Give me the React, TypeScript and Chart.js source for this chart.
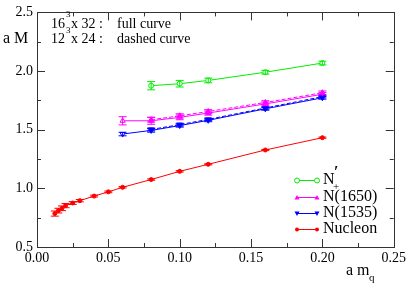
import React, { useEffect, useRef } from 'react';
import { Chart, registerables } from 'chart.js';
Chart.register(...registerables);

// ---- data ----
const nPrimeX = [0.08, 0.10, 0.12, 0.16, 0.20];
const nPrimeY = [1.875, 1.892, 1.92, 1.99, 2.068];
const nPrimeErr = [0.035, 0.028, 0.02, 0.016, 0.016];

const n1650X = [0.06, 0.08, 0.10, 0.12, 0.16, 0.20];
const n1650Y = [1.576, 1.576, 1.605, 1.642, 1.72, 1.802];
const n1650Err = [0.035, 0.03, 0.02, 0.018, 0.016, 0.016];

const n1650DashX = [0.08, 0.10, 0.12, 0.16, 0.20];
const n1650DashY = [1.585, 1.618, 1.655, 1.732, 1.815];
const n1650DashErr = [0.02, 0.018, 0.016, 0.015, 0.015];

const n1535X = [0.06, 0.08, 0.10, 0.12, 0.16, 0.20];
const n1535Y = [1.463, 1.494, 1.535, 1.58, 1.678, 1.772];
const n1535Err = [0.015, 0.015, 0.013, 0.012, 0.012, 0.012];

const n1535DashX = [0.08, 0.10, 0.12, 0.16, 0.20];
const n1535DashY = [1.502, 1.543, 1.588, 1.685, 1.782];
const n1535DashErr = [0.012, 0.012, 0.011, 0.011, 0.011];

const nucleonX = [0.0125, 0.015, 0.0175, 0.02, 0.025, 0.03, 0.04, 0.05, 0.06, 0.08, 0.10, 0.12, 0.16, 0.20];
const nucleonY = [0.785, 0.81, 0.83, 0.853, 0.875, 0.895, 0.934, 0.97, 1.009, 1.075, 1.145, 1.205, 1.327, 1.432];
const nucleonErr = [0.022, 0.02, 0.02, 0.018, 0.012, 0.01, 0.008, 0.007, 0.006, 0.006, 0.006, 0.005, 0.005, 0.005];

const xTicks = [0, 0.05, 0.1, 0.15, 0.2, 0.25];
const yTicks = [0.5, 1.0, 1.5, 2.0, 2.5];

const GREEN = '#00ee00';
const MAGENTA = '#ff00ff';
const BLUE = '#0000ff';
const RED = '#ff0000';
const SERIF = '"Liberation Serif"';

const pts = (xs: number[], ys: number[]) => xs.map((x, i) => ({ x, y: ys[i] }));

const errorBarPlugin = {
  id: 'errbars',
  afterDatasetsDraw(chart: any) {
    const ctx = chart.ctx;
    const ys = chart.scales.y;
    chart.data.datasets.forEach((ds: any, di: number) => {
      const meta = chart.getDatasetMeta(di);
      if (!ds.errors) return;
      ctx.save();
      ctx.strokeStyle = ds.borderColor;
      ctx.lineWidth = 1;
      ctx.setLineDash([]);
      meta.data.forEach((el: any, i: number) => {
        const v = ds.data[i].y;
        const e = ds.errors[i];
        const px = el.x;
        const top = ys.getPixelForValue(v + e);
        const bot = ys.getPixelForValue(v - e);
        const cap = 4;
        ctx.beginPath();
        ctx.moveTo(px, top);
        ctx.lineTo(px, bot);
        ctx.moveTo(px - cap, top);
        ctx.lineTo(px + cap, top);
        ctx.moveTo(px - cap, bot);
        ctx.lineTo(px + cap, bot);
        ctx.stroke();
      });
      ctx.restore();
    });
  },
};

const drawMarker = (ctx: any, kind: string, x: number, y: number, color: string) => {
  ctx.save();
  ctx.strokeStyle = color;
  ctx.fillStyle = color;
  ctx.lineWidth = 1;
  ctx.beginPath();
  if (kind === 'circleOpen') {
    ctx.arc(x, y, 2.5, 0, Math.PI * 2);
    ctx.fillStyle = '#fff';
    ctx.fill();
    ctx.stroke();
  } else if (kind === 'circle') {
    ctx.arc(x, y, 2, 0, Math.PI * 2);
    ctx.fill();
  } else if (kind === 'tri') {
    ctx.moveTo(x, y - 2.5);
    ctx.lineTo(x + 2.5, y + 2);
    ctx.lineTo(x - 2.5, y + 2);
    ctx.closePath();
    ctx.fill();
  } else if (kind === 'triDown') {
    ctx.moveTo(x, y + 2.5);
    ctx.lineTo(x + 2.5, y - 2);
    ctx.lineTo(x - 2.5, y - 2);
    ctx.closePath();
    ctx.fill();
  }
  ctx.restore();
};

const decorPlugin = {
  id: 'decor',
  afterDraw(chart: any) {
    const ctx = chart.ctx;
    const { left, right, top, bottom } = chart.chartArea;
    const xs = chart.scales.x;
    const ys = chart.scales.y;
    ctx.save();
    // frame
    ctx.strokeStyle = '#333';
    ctx.lineWidth = 1;
    ctx.strokeRect(Math.round(left) + 0.5, Math.round(top) + 0.5, Math.round(right - left), Math.round(bottom - top));
    // ticks
    ctx.beginPath();
    for (let v = 0; v <= 0.2501; v += 0.025) {
      const major = Math.abs(v / 0.05 - Math.round(v / 0.05)) < 1e-6;
      const L = major ? 8 : 4;
      const px = Math.round(xs.getPixelForValue(v)) + 0.5;
      ctx.moveTo(px, bottom);
      ctx.lineTo(px, bottom - L);
      ctx.moveTo(px, top);
      ctx.lineTo(px, top + L);
    }
    for (let v = 0.5; v <= 2.5001; v += 0.25) {
      const major = Math.abs(v / 0.5 - Math.round(v / 0.5)) < 1e-6;
      const L = major ? 8 : 4;
      const py = Math.round(ys.getPixelForValue(v)) + 0.5;
      ctx.moveTo(left, py);
      ctx.lineTo(left + L, py);
      ctx.moveTo(right, py);
      ctx.lineTo(right - L, py);
    }
    ctx.stroke();

    // annotation text
    ctx.fillStyle = '#000';
    ctx.textBaseline = 'middle';
    ctx.textAlign = 'left';
    ctx.font = `14px ${SERIF}`;
    ctx.fillText('16', 51, 24);
    ctx.fillText('x 32 :', 71, 24);
    ctx.fillText('full curve', 117, 24);
    ctx.fillText('12', 51, 39.5);
    ctx.fillText('x 24 :', 71, 39.5);
    ctx.fillText('dashed curve', 117, 39.5);
    ctx.font = `9px ${SERIF}`;
    ctx.fillText('3', 66, 15);
    ctx.fillText('3', 66, 31);

    // axis titles
    ctx.font = `16px ${SERIF}`;
    ctx.fillText('a M', 3, 39);
    ctx.fillText('a m', 346, 271);
    ctx.font = `11px ${SERIF}`;
    ctx.fillText('q', 369, 278);

    // legend
    const entries = [
      { y: 180, color: GREEN, marker: 'circleOpen', label: 'N' },
      { y: 197, color: MAGENTA, marker: 'tri', label: 'N(1650)' },
      { y: 213, color: BLUE, marker: 'triDown', label: 'N(1535)' },
      { y: 229, color: RED, marker: 'circle', label: 'Nucleon' },
    ];
    entries.forEach((e) => {
      ctx.strokeStyle = e.color;
      ctx.lineWidth = 1;
      ctx.beginPath();
      ctx.moveTo(297, e.y + 0.5);
      ctx.lineTo(317, e.y + 0.5);
      ctx.stroke();
      drawMarker(ctx, e.marker, 297, e.y + 0.5, e.color);
      drawMarker(ctx, e.marker, 317, e.y + 0.5, e.color);
      ctx.fillStyle = '#000';
      ctx.font = `16px ${SERIF}`;
      ctx.fillText(e.label, 323, e.y);
    });
    // prime and subscript for N'
    ctx.font = `bold 16px ${SERIF}`;
    ctx.fillText('\u2032', 334, 173);
    ctx.font = `11px ${SERIF}`;
    ctx.fillText('+', 333, 187);
    ctx.restore();
  },
};

const makeSet = (label: string, xs: number[], ys: number[], errs: number[], color: string, style: string, rot: number, dashed: boolean, filled: boolean) => ({
  label,
  data: pts(xs, ys),
  errors: errs,
  borderColor: color,
  backgroundColor: filled ? color : '#ffffff',
  borderWidth: 1,
  borderDash: dashed ? [4, 2] : [],
  pointStyle: style,
  pointRotation: rot,
  pointRadius: style === 'circle' ? (filled ? 2 : 2.5) : 3,
  pointBorderWidth: 1,
  pointBorderColor: color,
  pointBackgroundColor: filled ? color : '#ffffff',
  showLine: true,
  tension: 0,
  fill: false,
});

export default function App() {
  const ref = useRef<HTMLCanvasElement>(null);
  useEffect(() => {
    document.body.style.margin = '0';
    const chart = new Chart(ref.current as HTMLCanvasElement, {
      type: 'line',
      data: {
        datasets: [
          makeSet('N1650 dashed', n1650DashX, n1650DashY, n1650DashErr, MAGENTA, 'triangle', 0, true, true),
          makeSet('N1535 dashed', n1535DashX, n1535DashY, n1535DashErr, BLUE, 'triangle', 180, true, true),
          makeSet("N'+", nPrimeX, nPrimeY, nPrimeErr, GREEN, 'circle', 0, false, false),
          makeSet('N(1650)', n1650X, n1650Y, n1650Err, MAGENTA, 'triangle', 0, false, false),
          makeSet('N(1535)', n1535X, n1535Y, n1535Err, BLUE, 'triangle', 180, false, false),
          makeSet('Nucleon', nucleonX, nucleonY, nucleonErr, RED, 'circle', 0, false, true),
        ] as any,
      },
      options: {
        responsive: false,
        animation: false,
        devicePixelRatio: 1,
        layout: { padding: { left: 0, right: 14, top: 6, bottom: 0 } },
        plugins: { legend: { display: false }, tooltip: { enabled: false } },
        scales: {
          x: {
            type: 'linear',
            min: 0,
            max: 0.25,
            afterBuildTicks: (s: any) => { s.ticks = xTicks.map((v) => ({ value: v })); },
            afterFit: (s: any) => { s.height = 37; },
            ticks: {
              callback: (v: any) => Number(v).toFixed(2),
              font: { family: SERIF, size: 14 },
              color: '#000',
              padding: 3,
              maxRotation: 0,
            },
            grid: { display: false, drawTicks: false },
            border: { display: false },
          },
          y: {
            type: 'linear',
            min: 0.5,
            max: 2.5,
            afterBuildTicks: (s: any) => { s.ticks = yTicks.map((v) => ({ value: v })); },
            afterFit: (s: any) => { s.width = 37; },
            ticks: {
              callback: (v: any) => Number(v).toFixed(1),
              font: { family: SERIF, size: 14 },
              color: '#000',
              padding: 4,
            },
            grid: { display: false, drawTicks: false },
            border: { display: false },
          },
        },
      } as any,
      plugins: [errorBarPlugin, decorPlugin],
    });
    return () => chart.destroy();
  }, []);
  return (
    <div style={{ position: 'absolute', left: 0, top: 0, width: 409, height: 284 }}>
      <canvas ref={ref} width={409} height={284} style={{ display: 'block' }} />
    </div>
  );
}
